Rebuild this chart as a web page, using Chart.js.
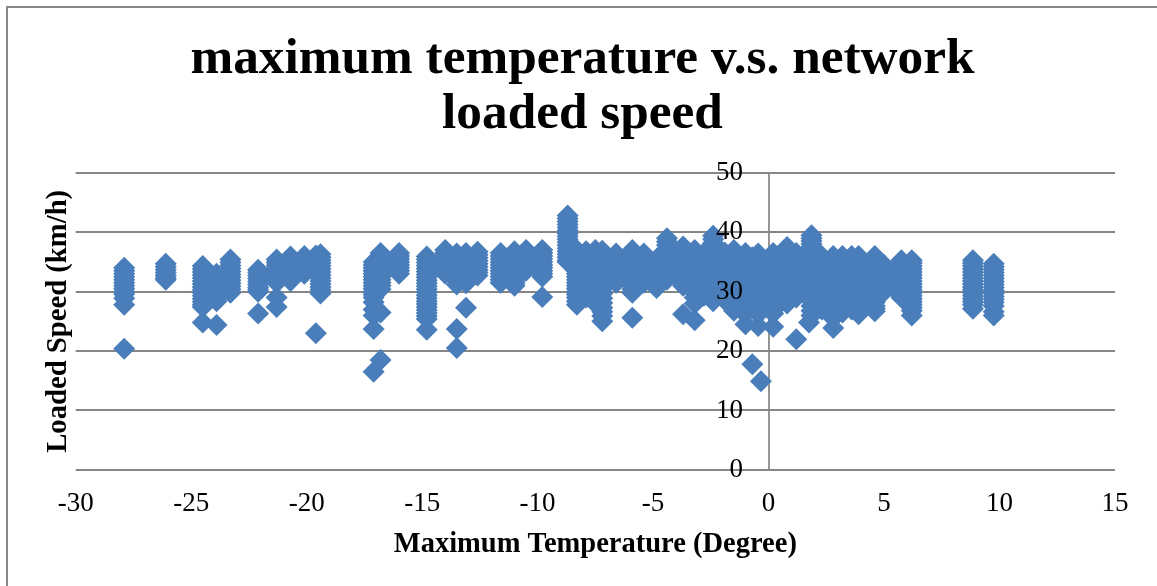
<!DOCTYPE html>
<html>
<head>
<meta charset="utf-8">
<title>maximum temperature v.s. network loaded speed</title>
<script src="https://cdn.jsdelivr.net/npm/chart.js@4"></script>
<style>
  html, body { margin: 0; padding: 0; background: #fff; overflow: hidden; }
  #wrap { position: absolute; left: 0; top: 0; width: 1157px; height: 586px; }
  #frame { position: absolute; left: 6px; top: 6px; right: 0; bottom: 0; border-left: 2px solid #868686; border-top: 2px solid #868686; }
</style>
</head>
<body>
<div id="wrap">
  <div id="frame"></div>
  <canvas id="chart" width="1157" height="586"></canvas>
</div>
<script>
const titleLines = ['maximum temperature v.s. network', 'loaded speed'];
const xTitle = 'Maximum Temperature (Degree)';
const yTitle = 'Loaded Speed (km/h)';

const temps = [
  -27.9, -26.1, -24.5, -23.9, -23.3, -22.1, -21.3, -20.7, -20.1, -19.6, -19.4,
  -17.1, -16.8, -16, -14.8, -14, -13.5, -13.1, -12.6, -11.6, -11, -10.5, -9.8,
  -8.7, -8.3, -7.9, -7.5, -7.2, -6.6, -5.9, -5.4, -4.85, -4.4, -3.7, -3.2, -2.8, -2.4, -1.9,
  -1.5, -1, -0.7, -0.45, -0.33, 0.2, 0.8, 1.2, 1.75, 1.86, 2.3, 2.8, 3.2, 3.6, 3.9,
  4.6, 5, 5.75, 6.2, 8.85, 9.75
];

const speeds = [
  [34, 33.5, 33, 32.5, 32, 31.5, 31, 30.5, 30, 29.6, 28.9, 27.8, 20.4],
  [34.7, 34.2, 33.7, 33.2, 32.7, 32.3, 32],
  [34.3, 33.8, 33.3, 32.8, 32.3, 31.8, 31.3, 30.8, 30.3, 29.8, 29.3, 28.8, 28.3, 27.8, 27.4, 24.8],
  [33, 32.5, 32, 31.5, 31, 30.5, 30, 29.5, 29, 28.4, 24.4],
  [35.4, 34.9, 34.4, 33.9, 33.4, 32.9, 32.4, 31.9, 31.4, 30.9, 30.4, 29.8],
  [33.7, 33.2, 32.7, 32.2, 31.7, 31.2, 30.7, 30.3, 30, 26.3],
  [35.4, 34.9, 34.4, 33.9, 33.4, 32.9, 32.4, 31.9, 31.5, 29, 27.4],
  [35.9, 35.4, 34.9, 34.4, 33.9, 33.4, 32.9, 32.4, 31.8],
  [36, 35.5, 35, 34.5, 34, 33.5, 33],
  [36.1, 35.6, 35.1, 34.6, 34.1, 33.6, 23],
  [36.3, 35.8, 35.3, 34.8, 34.3, 33.8, 33.3, 32.8, 32.3, 31.8, 31.3, 30.8, 30.3, 29.7],
  [35, 34.5, 34, 33.5, 33, 32.5, 32, 31.5, 31, 30.5, 30, 29.5, 29, 28.2, 27, 26, 23.7, 16.5],
  [36.5, 36, 35.5, 35, 34.5, 34, 33.5, 33, 32.5, 32, 31.5, 31, 30.4, 26.5, 18.5],
  [36.5, 36, 35.5, 35, 34.5, 34, 33.5, 33],
  [35.9, 35.4, 34.9, 34.4, 33.9, 33.4, 32.9, 32.4, 31.9, 31.4, 30.9, 30.4, 29.9, 29.4, 28.9, 28.4, 27.9, 27.4, 26.9, 26.4, 25.9, 25.4, 23.6],
  [37, 36.5, 36, 35.5, 35, 34.5, 34, 33.5, 33],
  [36.4, 35.9, 35.4, 34.9, 34.4, 33.9, 33.4, 32.9, 32.4, 31.9, 31.2, 23.7, 20.5],
  [36.5, 36, 35.5, 35, 34.5, 34, 33.5, 33, 32.5, 32, 31.4, 27.3],
  [36.7, 36.2, 35.7, 35.2, 34.7, 34.2, 33.7, 33.2, 32.7],
  [36.5, 36, 35.5, 35, 34.5, 34, 33.5, 33, 32.5, 32, 31.5],
  [36.8, 36.3, 35.8, 35.3, 34.8, 34.3, 33.8, 33.3, 32.8, 32.3, 31.8, 31.4, 31],
  [37, 36.5, 36, 35.5, 35, 34.5, 34, 33.5],
  [37, 36.5, 36, 35.5, 35, 34.5, 34, 33.5, 33, 32.5, 29.1],
  [42.8, 42.3, 41.8, 41.3, 40.8, 40.3, 39.8, 39.3, 38.8, 38.3, 37.8, 37.3, 36.8, 36.3, 35.8, 35.3, 35],
  [37, 36.5, 36, 35.5, 35, 34.5, 34, 33.5, 33, 32.5, 32, 31.5, 31, 30.5, 30, 29.5, 29, 28.4, 27.8],
  [36.8, 36, 35.2, 34.4, 33.6, 32.8, 32, 31.2, 30.4, 29.7, 29],
  [37, 36.2, 35.4, 34.6, 33.8, 33, 32.2, 31.4, 30.6, 29.8, 29, 28],
  [36.9, 36.1, 35.3, 34.5, 33.7, 32.9, 32.1, 31.3, 30.5, 29.7, 28.9, 28.1, 27.3, 26.6, 25.9, 25],
  [36.4, 35.6, 34.8, 34, 33.2, 32.4, 31.5],
  [37, 36.4, 35.8, 35.2, 34.6, 34, 33.4, 32.8, 32.2, 31.6, 31, 30.4, 29.8, 25.6],
  [36.4, 35.6, 34.8, 34, 33.2, 32.4, 31.5],
  [35.5, 34.7, 33.9, 33.1, 32.3, 31.5, 30.6],
  [39, 38.4, 37.8, 37.2, 36.6, 36, 35.2, 34.4, 33.6, 32.8, 32],
  [37.6, 36.9, 36.2, 35.5, 34.8, 34.1, 33.4, 32.7, 32, 31.5, 31, 26.2],
  [37, 36.2, 35.4, 34.6, 33.8, 33, 32.2, 31.4, 30.6, 29.8, 29, 28, 25.2],
  [36.5, 35.7, 34.9, 34.1, 33.3, 32.5, 31.7, 30.9, 30.1, 29.3],
  [39.4, 38.8, 38.2, 37.6, 37, 36.3, 35.5, 34.7, 33.9, 33.1, 32.3, 31.5, 30.7, 29.9, 29.1, 28.4],
  [36.6, 35.8, 35, 34.2, 33.4, 32.6, 31.8, 31, 30.2, 29.4, 28.6],
  [37, 36.2, 35.4, 34.6, 33.8, 33, 32.2, 31.4, 30.6, 29.8, 29, 28.2, 27.4, 26.8],
  [36.5, 35.7, 34.9, 34.1, 33.3, 32.5, 31.7, 30.9, 30.1, 29.3, 28.5, 27.7, 26.9, 26.2, 24.5],
  [35.8, 35, 34.2, 33.4, 32.6, 31.8, 31, 30.2, 29.4, 28.8, 17.8],
  [36.4, 35.6, 34.8, 34, 33.2, 32.4, 31.6, 30.8, 30, 29.2, 28.4, 27.6, 26.8, 26.2, 24.2],
  [34, 33.2, 32.4, 31.6, 30.8, 30, 29.2, 28.4, 27.6, 27, 14.9],
  [36.5, 35.7, 34.9, 34.1, 33.3, 32.5, 31.7, 30.9, 30.1, 29.3, 28.5, 27.7, 26.9, 26.3, 24.1],
  [37.5, 36.9, 36.3, 35.7, 35.1, 34.5, 33.7, 32.9, 32.1, 31.3, 30.5, 29.7, 28.9, 28],
  [36.5, 35.7, 34.9, 34.1, 33.3, 32.5, 31.7, 30.9, 30.1, 29.5, 29, 22],
  [37, 36.2, 35.4, 34.6, 33.8, 33, 32.2, 31.4, 30.6, 30, 24.8],
  [39.5, 39, 38.5, 38, 37.5, 37, 36.4, 35.6, 34.8, 34, 33.2, 32.4, 31.6, 30.8, 30, 29.2, 28.4, 27.6, 26.8, 26],
  [36, 35.2, 34.4, 33.6, 32.8, 32, 31.2, 30.4, 29.6, 28.8, 28, 27.4, 27],
  [36, 35.3, 34.6, 33.9, 33.2, 32.5, 31.8, 31.1, 30.4, 29.7, 29, 28.3, 27.6, 26.9, 26.2, 25.5, 23.9],
  [36, 35.3, 34.6, 33.9, 33.2, 32.5, 31.8, 31.1, 30.4, 29.7, 29, 28.3, 27.6, 26.9, 26.5],
  [36, 35.3, 34.6, 33.9, 33.2, 32.5, 31.8, 31.1, 30.4, 29.7, 29, 28.3, 27.6, 27],
  [36, 35.3, 34.6, 33.9, 33.2, 32.5, 31.8, 31.1, 30.4, 29.7, 29, 28.3, 27.6, 26.9, 26.2],
  [36, 35.4, 34.8, 34.2, 33.6, 33, 32.4, 31.8, 31.2, 30.6, 30, 29.4, 28.8, 28.2, 27.6, 27.1, 26.7],
  [34.5, 34, 33.5, 33, 32.5, 32, 31.5, 31, 30.5, 30],
  [35.3, 34.8, 34.3, 33.8, 33.3, 32.8, 32.3, 31.8, 31.3, 30.8, 30.3, 29.8, 29.3, 29],
  [35.3, 34.8, 34.3, 33.8, 33.3, 32.8, 32.3, 31.8, 31.3, 30.8, 30.3, 29.8, 29.3, 28.8, 28.3, 27.8, 27.3, 26.8, 26],
  [35.3, 34.8, 34.3, 33.8, 33.3, 32.8, 32.3, 31.8, 31.3, 30.8, 30.3, 29.8, 29.3, 28.8, 28.3, 27.8, 27.1],
  [34.7, 34.2, 33.7, 33.2, 32.7, 32.2, 31.7, 31.2, 30.7, 30.2, 29.7, 29.2, 28.7, 28.2, 27.6, 26.6, 26]
];

const serif = '"Liberation Serif", serif';
const points = temps.flatMap((t, i) => speeds[i].map(s => ({ x: t, y: s })));

new Chart(document.getElementById('chart'), {
  type: 'scatter',
  data: {
    datasets: [{
      label: 'Loaded Speed',
      data: points,
      pointStyle: 'rectRot',
      pointRadius: 11,
      pointHoverRadius: 11,
      backgroundColor: '#4a7ebb',
      borderColor: '#4a7ebb',
      borderWidth: 0
    }]
  },
  options: {
    responsive: false,
    animation: false,
    layout: { padding: { left: 50, right: 42, top: 32, bottom: 24 } },
    plugins: {
      legend: { display: false },
      tooltip: { enabled: false },
      title: {
        display: true,
        text: titleLines,
        color: '#000',
        font: { family: serif, size: 51.3, weight: 'bold', lineHeight: 1.07 },
        padding: { top: 0, bottom: 31 }
      }
    },
    scales: {
      x: {
        type: 'linear',
        min: -30,
        max: 15,
        position: 'bottom',
        border: { display: false },
        // the vertical line at zero, where the speed axis crosses in the original
        grid: {
          color: ctx => (ctx.tick && ctx.tick.value === 0 ? '#969696' : 'transparent'),
          lineWidth: 2,
          drawTicks: false
        },
        ticks: { stepSize: 5, color: '#000', padding: 18, maxRotation: 0, font: { family: serif, size: 27 } },
        title: { display: true, text: xTitle, color: '#000', padding: { top: -10.5, bottom: 0 }, font: { family: serif, size: 28.5, weight: 'bold' } }
      },
      y: {
        type: 'linear',
        min: 0,
        max: 50,
        // tick padding is ignored for a crossing axis, so the labels sit just left of zero this way
        position: { x: -1.11 },
        border: { display: false },
        grid: { color: '#868686', lineWidth: 2, drawTicks: false },
        ticks: { stepSize: 10, color: '#000', z: 1, font: { family: serif, size: 27 } }
      },
      yLabel: {
        type: 'linear',
        position: 'left',
        min: 0,
        max: 50,
        border: { display: false },
        grid: { display: false, drawTicks: false },
        ticks: { display: false },
        title: { display: true, text: yTitle, color: '#000', padding: { top: -6, bottom: 3 }, font: { family: serif, size: 28.7, weight: 'bold', lineHeight: 1 } }
      }
    }
  }
});
</script>
</body>
</html>
